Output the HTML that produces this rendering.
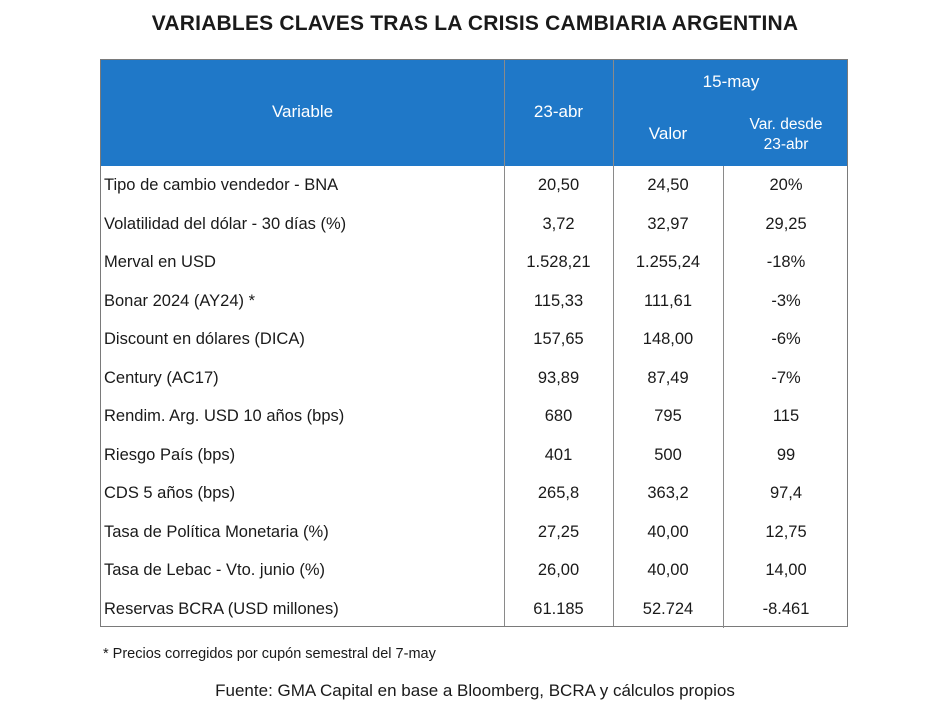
<!DOCTYPE html>
<html><head><meta charset="utf-8"><style>
body{margin:0;width:950px;height:713px;background:#fff;font-family:"Liberation Sans",sans-serif;color:#1a1a1a;position:relative;overflow:hidden}
.t{position:absolute;white-space:nowrap}
#title{left:0;width:950px;top:12px;text-align:center;font-weight:bold;font-size:21px;color:#1a1a1a;letter-spacing:0.2px}
#tbl{position:absolute;left:100px;top:59px;width:748px;height:568px;border:1px solid #7a7a7a;box-sizing:border-box}
#hdr{position:absolute;left:0;top:0;width:100%;height:106px;background:#1f78c8}
.vl{position:absolute;top:0;width:1px;background:#8a8a8a}
.h{color:#fff;font-size:17px;text-align:center;position:absolute}
.cell{position:absolute;font-size:16.5px;height:38.5px;line-height:38.5px}
</style></head><body>
<div id="title" class="t">VARIABLES CLAVES TRAS LA CRISIS CAMBIARIA ARGENTINA</div>
<div id="tbl">
<div id="hdr">
<div class="h" style="left:0;width:403px;top:42px">Variable</div>
<div class="h" style="left:403px;width:109px;top:42px">23-abr</div>
<div class="h" style="left:512px;width:236px;top:12px">15-may</div>
<div class="h" style="left:512px;width:110px;top:64px">Valor</div>
<div class="h" style="left:622px;width:126px;top:55px;font-size:15.5px;line-height:20px">Var. desde<br>23-abr</div>
</div>
<div class="vl" style="left:403px;height:100%"></div>
<div class="vl" style="left:512px;height:100%"></div>
<div class="vl" style="left:622px;top:106px;height:462px"></div>
<div id="body"></div>
</div>
<div class="t" style="left:103px;top:646px;font-size:14.5px">* Precios corregidos por cupón semestral del 7-may</div>
<div class="t" style="left:0;width:950px;text-align:center;top:681px;font-size:17px">Fuente: GMA Capital en base a Bloomberg, BCRA y cálculos propios</div>
<script>
const variables=["Tipo de cambio vendedor - BNA","Volatilidad del dólar - 30 días (%)","Merval en USD","Bonar 2024 (AY24) *","Discount en dólares (DICA)","Century (AC17)","Rendim. Arg. USD 10 años (bps)","Riesgo País (bps)","CDS 5 años (bps)","Tasa de Política Monetaria (%)","Tasa de Lebac - Vto. junio (%)","Reservas BCRA (USD millones)"];
const abr23=["20,50","3,72","1.528,21","115,33","157,65","93,89","680","401","265,8","27,25","26,00","61.185"];
const may15=["24,50","32,97","1.255,24","111,61","148,00","87,49","795","500","363,2","40,00","40,00","52.724"];
const varDesde=["20%","29,25","-18%","-3%","-6%","-7%","115","99","97,4","12,75","14,00","-8.461"];
const body=document.getElementById('body');
const cols=[[3,400,'left',variables],[403,109,'center',abr23],[512,110,'center',may15],[622,126,'center',varDesde]];
const names=['variable-name','value-23-abr','value-15-may','value-var-desde'];
variables.forEach((v,i)=>{
 cols.forEach((c,j)=>{
  const d=document.createElement('div');
  d.className='cell';
  d.style.left=c[0]+'px';d.style.width=c[1]+'px';d.style.textAlign=c[2];
  d.style.top=(106+i*38.5)+'px';
  d.textContent=c[3][i];
  
  
  body.appendChild(d);
 });
});
</script>
</body></html>
